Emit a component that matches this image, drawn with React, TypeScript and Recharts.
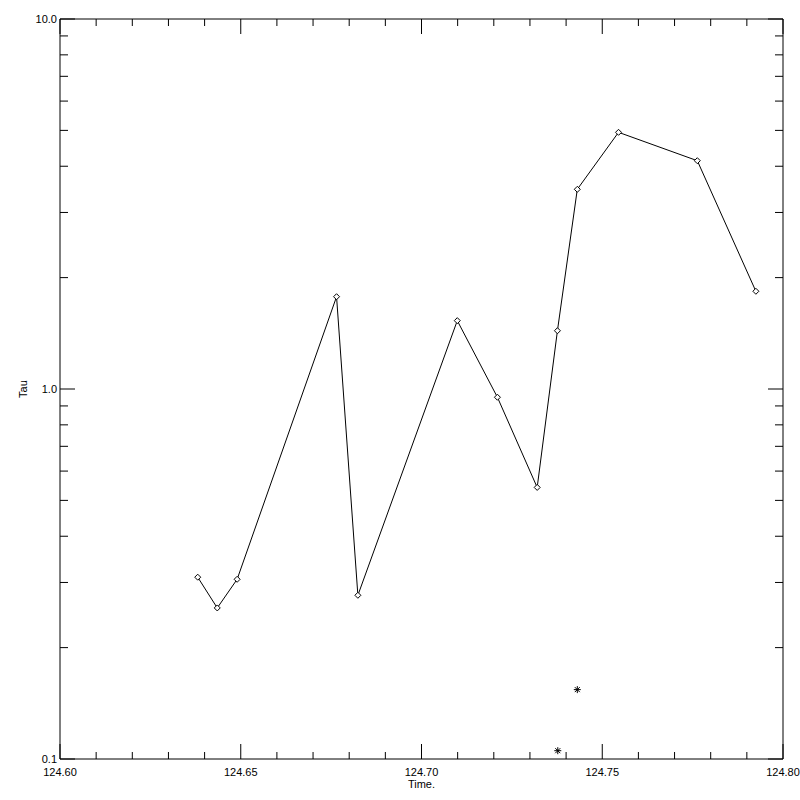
import React from "react";
import { ComposedChart, Line, Scatter, XAxis, YAxis } from "recharts";

// diamond series
const tauTimes = [
  124.6381, 124.6435, 124.649, 124.6765, 124.6824, 124.7099, 124.721,
  124.732, 124.7376, 124.7431, 124.7545, 124.7763, 124.7925,
];
const tauValues = [
  0.31, 0.256, 0.306, 1.776, 0.277, 1.53, 0.95, 0.542, 1.437, 3.465, 4.94,
  4.14, 1.837,
];

// asterisk points
const starTimes = [124.7431, 124.7377];
const starValues = [0.154, 0.1053];

const xTicks = [
  124.6, 124.61, 124.62, 124.63, 124.64, 124.65, 124.66, 124.67, 124.68,
  124.69, 124.7, 124.71, 124.72, 124.73, 124.74, 124.75, 124.76, 124.77,
  124.78, 124.79, 124.8,
];
const xMajor = [124.6, 124.65, 124.7, 124.75, 124.8];

const yTicks = [
  0.1, 0.2, 0.3, 0.4, 0.5, 0.6, 0.7, 0.8, 0.9, 1, 2, 3, 4, 5, 6, 7, 8, 9, 10,
];
const yMajor = [0.1, 1, 10];
const yLabels = ["0.1", "1.0", "10.0"];

const lineData = tauTimes.map((t, i) => ({ t, tau: tauValues[i] }));
const starData = starTimes.map((t, i) => ({ t, tau: starValues[i] }));

const FONT = "'Liberation Sans', Arial, sans-serif";
const near = (a: number, b: number) => Math.abs(a - b) < 1e-6;
const isMajorX = (v: number) => xMajor.some((m) => near(m, v));
const majorY = (v: number) => yMajor.findIndex((m) => near(m, v));

const BottomTick = (props: any) => {
  const { x, y, payload } = props;
  const major = isMajorX(payload.value);
  return (
    <g>
      <line x1={x} y1={y} x2={x} y2={y - (major ? 15 : 7)} stroke="#000" />
      {major && (
        <text x={x} y={y + 17} textAnchor="middle" fontSize={11} fontFamily={FONT} fill="#000">
          {payload.value.toFixed(2)}
        </text>
      )}
    </g>
  );
};

const TopTick = (props: any) => {
  const { x, y, payload } = props;
  const major = isMajorX(payload.value);
  return <line x1={x} y1={y} x2={x} y2={y + (major ? 15 : 7)} stroke="#000" />;
};

const LeftTick = (props: any) => {
  const { x, y, payload } = props;
  const idx = majorY(payload.value);
  return (
    <g>
      <line x1={x} y1={y} x2={x + (idx >= 0 ? 15 : 8)} y2={y} stroke="#000" />
      {idx >= 0 && (
        <text x={x - 3} y={y + 4} textAnchor="end" fontSize={11} fontFamily={FONT} fill="#000">
          {yLabels[idx]}
        </text>
      )}
    </g>
  );
};

const RightTick = (props: any) => {
  const { x, y, payload } = props;
  const major = majorY(payload.value) >= 0;
  return <line x1={x} y1={y} x2={x - (major ? 15 : 8)} y2={y} stroke="#000" />;
};

const Diamond = (props: any) => {
  const { cx, cy } = props;
  if (cx == null || cy == null) return null;
  const r = 3;
  return (
    <path
      d={`M${cx},${cy - r}L${cx + r},${cy}L${cx},${cy + r}L${cx - r},${cy}Z`}
      fill="#fff"
      stroke="#000"
      strokeWidth={1}
    />
  );
};

const Asterisk = (props: any) => {
  const { cx, cy } = props;
  const r = 3.5;
  const d = 2.5;
  return (
    <g stroke="#000" strokeWidth={1}>
      <line x1={cx - r} y1={cy} x2={cx + r} y2={cy} />
      <line x1={cx} y1={cy - r} x2={cx} y2={cy + r} />
      <line x1={cx - d} y1={cy - d} x2={cx + d} y2={cy + d} />
      <line x1={cx - d} y1={cy + d} x2={cx + d} y2={cy - d} />
    </g>
  );
};

export default function App() {
  return (
    <div style={{ width: 800, height: 800, background: "#fff" }}>
      <style>{`body{margin:0}`}</style>
      <ComposedChart
        width={800}
        height={800}
        margin={{ top: 0, right: 0, bottom: 0, left: 0 }}
      >
        <XAxis
          xAxisId="bottom"
          dataKey="t"
          type="number"
          domain={[124.6, 124.8]}
          ticks={xTicks}
          interval={0}
          height={41}
          tickSize={0}
          tickMargin={0}
          tick={BottomTick}
          axisLine={{ stroke: "#000" }}
          tickLine={false}
          allowDataOverflow
          label={{
            content: () => (
              <text x={421.5} y={788} textAnchor="middle" fontSize={11} fontFamily={FONT} fill="#000">
                Time.
              </text>
            ),
          }}
        />
        <XAxis
          xAxisId="top"
          orientation="top"
          dataKey="t"
          type="number"
          domain={[124.6, 124.8]}
          ticks={xTicks}
          interval={0}
          height={19}
          tickSize={0}
          tickMargin={0}
          tick={TopTick}
          axisLine={{ stroke: "#000" }}
          tickLine={false}
          allowDataOverflow
        />
        <YAxis
          yAxisId="left"
          dataKey="tau"
          scale="log"
          type="number"
          domain={[0.1, 10]}
          ticks={yTicks}
          interval={0}
          width={60}
          tickSize={0}
          tickMargin={0}
          tick={LeftTick}
          axisLine={{ stroke: "#000" }}
          tickLine={false}
          allowDataOverflow
          label={{
            content: () => (
              <text
                x={27}
                y={389}
                textAnchor="middle"
                fontSize={11}
                fontFamily={FONT}
                fill="#000"
                transform="rotate(-90 27 389)"
              >
                Tau
              </text>
            ),
          }}
        />
        <YAxis
          yAxisId="right"
          orientation="right"
          dataKey="tau"
          scale="log"
          type="number"
          domain={[0.1, 10]}
          ticks={yTicks}
          interval={0}
          width={17}
          tickSize={0}
          tickMargin={0}
          tick={RightTick}
          axisLine={{ stroke: "#000" }}
          tickLine={false}
          allowDataOverflow
        />
        <Line
          data={lineData}
          xAxisId="bottom"
          yAxisId="left"
          dataKey="tau"
          stroke="#000"
          strokeWidth={1}
          dot={Diamond}
          activeDot={false}
          isAnimationActive={false}
        />
        <Scatter
          data={starData}
          xAxisId="bottom"
          yAxisId="left"
          dataKey="tau"
          shape={Asterisk}
          isAnimationActive={false}
        />
        <Line
          data={lineData}
          xAxisId="top"
          yAxisId="right"
          dataKey="tau"
          stroke="none"
          dot={false}
          activeDot={false}
          isAnimationActive={false}
        />
      </ComposedChart>
    </div>
  );
}
